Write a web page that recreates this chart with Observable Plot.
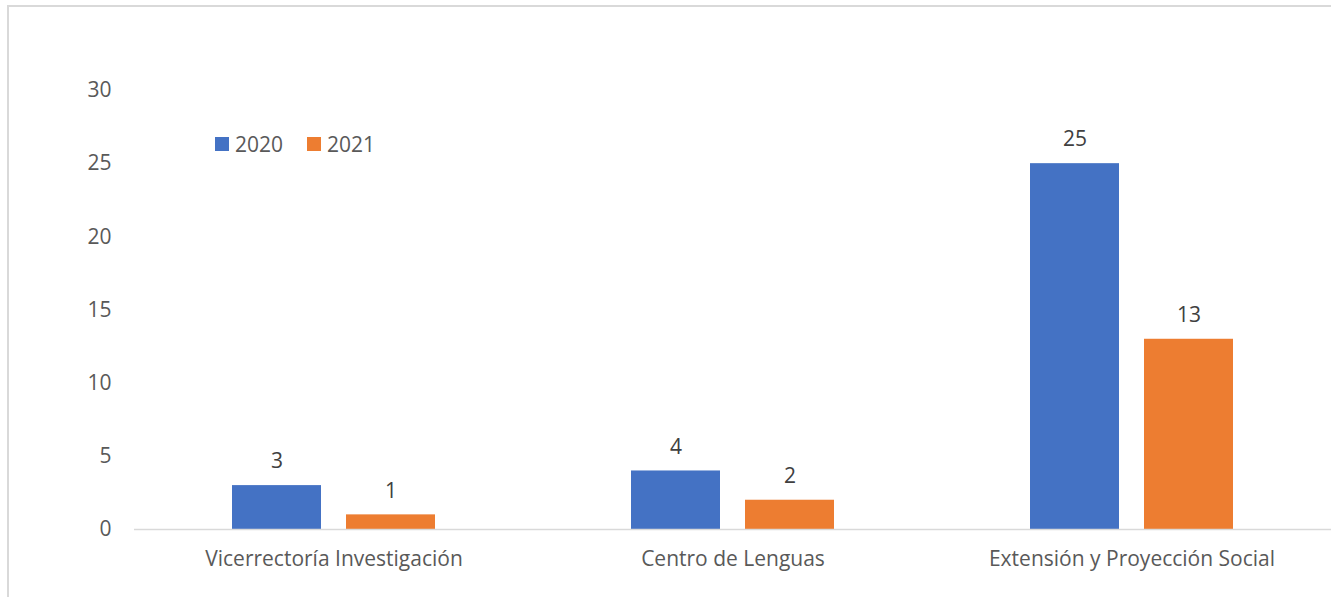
<!DOCTYPE html>
<html>
<head>
<meta charset="utf-8">
<script src="https://cdn.jsdelivr.net/npm/d3@7"></script>
<script src="https://cdn.jsdelivr.net/npm/@observablehq/plot@0.6"></script>
<style>
  html, body { margin: 0; padding: 0; background: #fff; }
  #wrap { position: relative; width: 1331px; height: 597px; overflow: hidden; font-family: "Open Sans", sans-serif; }
  #border { position: absolute; left: 7px; top: 5px; width: 1340px; height: 700px; border-left: 2px solid #d9d9d9; border-top: 2px solid #d9d9d9; box-sizing: border-box; }
  #legend { position: absolute; left: 215px; top: 130px; display: flex; gap: 24px; font-size: 21px; color: #595959; }
  #legend span.item { display: flex; align-items: center; gap: 6px; }
  #legend span.sw { width: 14px; height: 14px; display: inline-block; }
</style>
</head>
<body>
<div id="wrap"><div id="border"></div><div id="chart"></div><div id="legend"></div></div>
<script>
const categories = ["Vicerrectoría Investigación", "Centro de Lenguas", "Extensión y Proyección Social"];
const years = ["2020", "2021"];
const values2020 = [3, 4, 25];
const values2021 = [1, 2, 13];
const colors = ["#4472C4", "#ED7D31"];
const yTicks = [0, 5, 10, 15, 20, 25, 30];

const data = categories.flatMap((c, i) => [
  {category: c, year: years[0], value: values2020[i]},
  {category: c, year: years[1], value: values2021[i]}
]);

const chart = Plot.plot({
  width: 1331,
  height: 597,
  marginLeft: 134,
  marginRight: 0,
  marginTop: 90,
  marginBottom: 68,
  style: {fontFamily: "Open Sans, sans-serif", fontSize: "21px", color: "#595959", background: "transparent", overflow: "visible"},
  fx: {domain: categories, padding: 0, label: null},
  x: {domain: years, paddingInner: 0.2193, paddingOuter: 0.8596, axis: null},
  y: {domain: [0, 30], ticks: yTicks, label: null},
  color: {domain: years, range: colors},
  marks: [
    Plot.axisFx({anchor: "bottom", tickSize: 0, tickPadding: 22, fontSize: 21, fill: "#595959", label: null}),
    Plot.axisY({ticks: yTicks, tickSize: 0, tickPadding: 23, fontSize: 21, fill: "#595959", label: null}),
    Plot.barY(data, {fx: "category", x: "year", y: "value", fill: "year"}),
    Plot.ruleY([0], {stroke: "#d9d9d9", strokeWidth: 1.5}),
    Plot.text(data, {fx: "category", x: "year", y: "value", text: d => String(d.value), dy: -24, fontSize: 21, fill: "#404040"})
  ]
});
document.getElementById("chart").appendChild(chart);

const legend = document.getElementById("legend");
years.forEach((y, i) => {
  const item = document.createElement("span");
  item.className = "item";
  const sw = document.createElement("span");
  sw.className = "sw";
  sw.style.background = chart.scale("color").apply(y);
  item.appendChild(sw);
  item.appendChild(document.createTextNode(y));
  legend.appendChild(item);
});
</script>
</body>
</html>
